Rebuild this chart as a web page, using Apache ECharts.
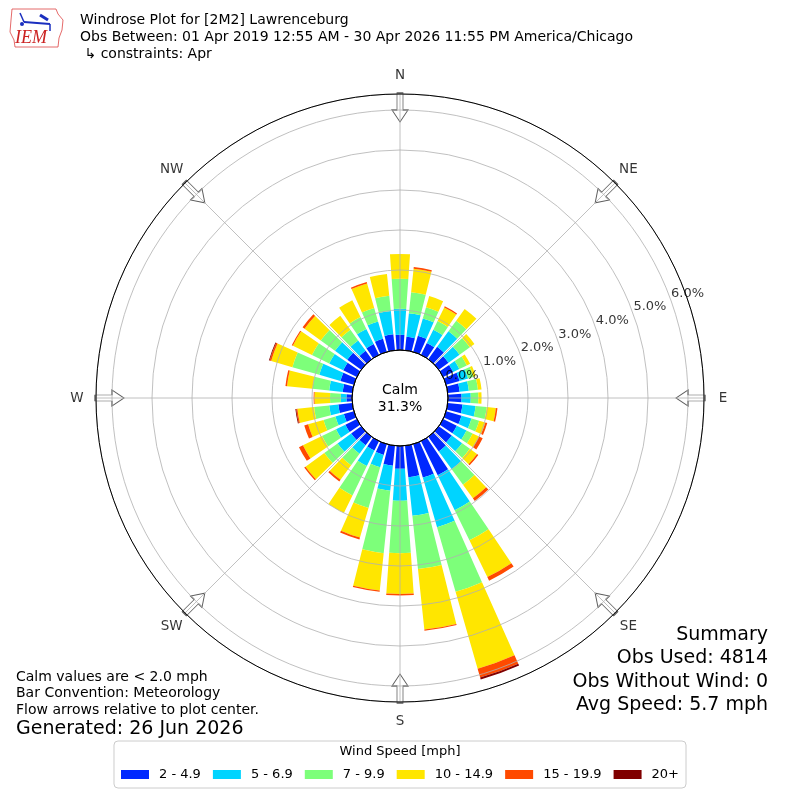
<!DOCTYPE html>
<html><head><meta charset="utf-8">
<script src="https://cdn.jsdelivr.net/npm/echarts@6/dist/echarts.min.js"></script>
<style>html,body{margin:0;padding:0;background:#fff}#c{width:800px;height:800px}</style>
</head><body><div id="c"></div>
<script>
// ---- data ----
const directions = [0,10,20,30,40,50,60,70,80,90,100,110,120,130,140,150,160,170,180,190,200,210,220,230,240,250,260,270,280,290,300,310,320,330,340,350];
const speedNames = ['2 - 4.9','5 - 6.9','7 - 9.9','10 - 14.9','15 - 19.9','20+'];
const speedColors = ['#0028ff','#00d4ff','#7dff7a','#ffe600','#ff4a00','#800000'];
const s2_49   = [.38,.34,.42,.33,.38,.30,.28,.35,.30,.34,.37,.40,.38,.40,.45,.95,.87,.79,.57,.50,.28,.26,.26,.31,.32,.26,.35,.14,.24,.35,.38,.43,.26,.30,.34,.40];
const s5_69   = [.65,.59,.45,.37,.48,.34,.17,.22,.23,.23,.33,.26,.27,.32,.55,.97,1.29,.97,.80,.63,.32,.43,.26,.42,.26,.22,.23,.14,.34,.55,.39,.38,.32,.42,.45,.59];
const s7_99   = [.75,.53,.29,.24,.33,.32,.21,.14,.23,.19,.28,.20,.17,.24,.48,.84,1.68,1.34,1.31,1.57,1.06,.82,.36,.41,.39,.31,.38,.27,.42,.70,.48,.44,.33,.33,.35,.38];
const s10_149 = [.62,.59,.29,.38,.36,.14,.09,.06,.09,.08,.23,.16,.18,.22,.42,1.02,2.0,1.52,1.02,.94,.77,.49,.45,.58,.53,.40,.42,.39,.64,.55,.53,.50,.43,.47,.64,.55];
const s15_199 = [0,.04,0,.03,0,0,0,0,0,0,.04,.05,.10,.04,.08,.10,.23,.03,.04,.03,.05,0,.05,.04,.11,.10,.03,.02,.04,.04,.03,.06,0,0,.04,0];
const s20p    = [0,0,0,0,0,0,0,0,0,0,0,0,0,0,0,0,.05,0,0,0,0,0,0,0,0,0,.02,0,0,.02,0,0,0,0,0,0];
const speedValues = [s2_49, s5_69, s7_99, s10_149, s15_199, s20p];
const radiusTicks = [0,1,2,3,4,5,6];
const compassAngles = [0,45,90,135,180,225,270,315];
const compassLabels = ['N','NE','E','SE','S','SW','W','NW'];
const titleLines = ['Windrose Plot for [2M2] Lawrenceburg','Obs Between: 01 Apr 2019 12:55 AM - 30 Apr 2026 11:55 PM America/Chicago',' \u21b3 constraints: Apr'];
const noteLines = ['Calm values are < 2.0 mph','Bar Convention: Meteorology','Flow arrows relative to plot center.'];
const generated = 'Generated: 26 Jun 2026';
const summaryLines = ['Summary','Obs Used: 4814','Obs Without Wind: 0','Avg Speed: 5.7 mph'];
const calmText = ['Calm','31.3%'];
const legendTitle = 'Wind Speed [mph]';

// ---- chart ----
const FONT = 'DejaVu Sans';
const chart = echarts.init(document.getElementById('c'), null, {renderer:'canvas'});
const CENTER = [400, 398];
const R_IN = 48, R_OUT = 304, RMAX = 6.4;
const PX_PER_UNIT = (R_OUT - R_IN) / RMAX;      // 40 px per 1 %
const RMAX_LBL = 8.5;                            // label polar extends past the frame
const R_OUT_LBL = R_IN + PX_PER_UNIT * RMAX_LBL;
const TICK_LABEL_SHIFT = 18 / PX_PER_UNIT;       // tick label sits 18 px outside its ring
const TICK_LABEL_ANGLE = 70;
const DIR_LABEL_R = (323 - R_IN) / PX_PER_UNIT;  // compass labels centred 323 px from centre
const ARROW_R = (290.5 - R_IN) / PX_PER_UNIT;

const bars = speedNames.map((n, i) => ({
  type: 'bar', name: n, coordinateSystem: 'polar', polarIndex: 0, stack: 'w',
  data: speedValues[i], itemStyle: {color: speedColors[i]},
  barCategoryGap: '20%', z: 2, silent: true
}));

const arrowPath = 'path://M5,0 L11,0 L11,17 L16,17 L8,29 L0,17 L5,17 Z';

function txt(text, x, y, size, align, extra) {
  return {
    type: 'text', x: x, y: y, silent: true, z: 100,
    style: Object.assign({text: text, fontSize: size, fontFamily: FONT, fill: '#000',
      textAlign: align || 'left', textVerticalAlign: 'middle', align: align || 'left', verticalAlign: 'middle'}, extra || {})
  };
}

const graphics = [];
titleLines.forEach((t, i) => graphics.push(txt(t, 80, 20 + i * 17, 14)));
noteLines.forEach((t, i) => graphics.push(txt(t, 16, 677 + i * 16.5, 14)));
graphics.push(txt(generated, 16, 729, 19));
summaryLines.forEach((t, i) => graphics.push(txt(t, 768, 635 + i * 23.5, 19, 'right')));
graphics.push(txt(calmText[0], 400, 390, 14, 'center'));
graphics.push(txt(calmText[1], 400, 407, 14, 'center'));
graphics.push(txt(legendTitle, 400, 752, 13, 'center'));
// IEM logo (decoration)
graphics.push({type:'polyline', silent:true, shape:{points:[[12,9],[56,9],[58,14],[63,20],[62,30],[59,38],[58,47],[15,47],[14,40],[10,32],[11,20],[12,9]]},
  style:{stroke:'#d44', lineWidth:0.8, fill:'none'}});
graphics.push({type:'line', silent:true, shape:{x1:24,y1:22,x2:50,y2:24}, style:{stroke:'#1a2fbf', lineWidth:2}});
graphics.push({type:'line', silent:true, shape:{x1:20,y1:13,x2:24,y2:22}, style:{stroke:'#1a2fbf', lineWidth:1.5}});
graphics.push({type:'line', silent:true, shape:{x1:40,y1:15,x2:48,y2:20}, style:{stroke:'#1a2fbf', lineWidth:3}});
graphics.push({type:'line', silent:true, shape:{x1:50,y1:24,x2:50,y2:31}, style:{stroke:'#1a2fbf', lineWidth:1.5}});
graphics.push({type:'circle', silent:true, shape:{cx:22,cy:24,r:2}, style:{fill:'#1a2fbf'}});
graphics.push(txt('IEM', 15, 38, 18, 'left', {fontFamily:'Liberation Serif', fontStyle:'italic', fill:'#cc2222'}));

const option = {
  animation: false,
  backgroundColor: '#fff',
  polar: [
    {center: CENTER, radius: [R_IN, R_OUT]},
    {center: CENTER, radius: [R_IN, R_OUT]},
    {center: CENTER, radius: [0, R_IN]},
    {center: CENTER, radius: [R_IN, R_OUT_LBL]}
  ],
  angleAxis: [
    {polarIndex: 0, type: 'category', data: directions.map(String), startAngle: 95, clockwise: true, show: false, boundaryGap: true},
    {polarIndex: 1, type: 'value', min: 0, max: 360, interval: 45, startAngle: 90, clockwise: true, z: 4,
      axisLine: {show: true, lineStyle: {color: '#000', width: 1}},
      axisTick: {show: false},
      splitLine: {show: true, lineStyle: {color: '#b0b0b0', width: 0.8}},
      axisLabel: {show: false}},
    {polarIndex: 2, type: 'value', min: 0, max: 360, startAngle: 90, z: 4,
      axisLine: {show: true, lineStyle: {color: '#000', width: 1}},
      axisTick: {show: false}, axisLabel: {show: false}, splitLine: {show: false}},
    {polarIndex: 3, type: 'value', min: 0, max: 360, startAngle: 90, clockwise: true, show: false}
  ],
  radiusAxis: [
    {polarIndex: 0, type: 'value', min: 0, max: RMAX, show: false},
    {polarIndex: 1, type: 'value', min: 0, max: RMAX, interval: 1, z: 4,
      axisLine: {show: false}, axisTick: {show: false}, axisLabel: {show: false},
      splitLine: {show: true, showMaxLine: false, lineStyle: {color: '#b0b0b0', width: 0.8}}},
    {polarIndex: 2, type: 'value', min: 0, max: 1, show: false},
    {polarIndex: 3, type: 'value', min: 0, max: RMAX_LBL, show: false}
  ],
  legend: {
    data: speedNames, left: 'center', top: 741, icon: 'rect', itemWidth: 28, itemHeight: 9, itemGap: 12,
    padding: [27, 7, 7, 7], borderColor: '#cccccc', borderWidth: 1, borderRadius: 4, backgroundColor: '#fff',
    textStyle: {fontSize: 13, fontFamily: FONT, color: '#000', padding: [0, 0, 0, 5]},
    selectedMode: false
  },
  graphic: graphics,
  series: bars.concat([
    {type: 'scatter', coordinateSystem: 'polar', polarIndex: 1, z: 3, silent: true,
      symbol: arrowPath, symbolSize: [16, 29],
      itemStyle: {color: '#fff', borderColor: '#333', borderWidth: 1},
      data: compassAngles.map(a => ({value: [ARROW_R, a], symbolRotate: -a}))},
    {type: 'scatter', coordinateSystem: 'polar', polarIndex: 3, z: 10, silent: true,
      symbolSize: 0,
      label: {show: true, position: 'inside', fontSize: 13, fontFamily: FONT, color: '#000',
        formatter: p => p.data.tick.toFixed(1) + '%'},
      data: radiusTicks.map(v => ({value: [v + TICK_LABEL_SHIFT, TICK_LABEL_ANGLE], tick: v}))},
    {type: 'scatter', coordinateSystem: 'polar', polarIndex: 3, z: 10, silent: true,
      symbolSize: 0,
      label: {show: true, position: 'inside', fontSize: 13.5, fontFamily: FONT, color: '#000',
        formatter: p => p.data.name},
      data: compassAngles.map((a, i) => ({value: [DIR_LABEL_R, a], name: compassLabels[i]}))}
  ])
};
chart.setOption(option);
</script></body></html>
